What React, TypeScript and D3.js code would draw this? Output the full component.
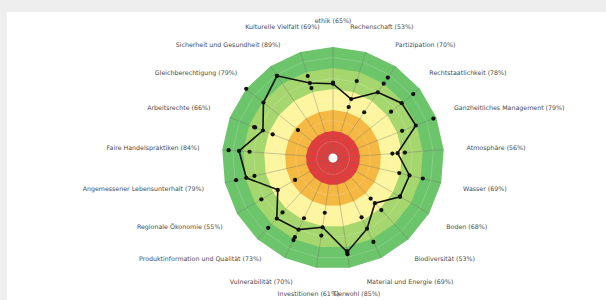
import * as d3 from "d3";
import { useEffect, useRef } from "react";

const categories = [
  "ethik", "Rechenschaft", "Partizipation", "Rechtstaatlichkeit", "Ganzheitliches Management",
  "Atmosphäre", "Wasser", "Boden", "Biodiversität", "Material und Energie", "Tierwohl",
  "Investitionen", "Vulnerabilität", "Produktinformation und Qualität", "Regionale Ökonomie",
  "Angemessener Lebensunterhalt", "Faire Handelspraktiken", "Arbeitsrechte",
  "Gleichberechtigung", "Sicherheit und Gesundheit", "Kulturelle Vielfalt",
];
const scores = [65, 53, 70, 78, 79, 56, 69, 68, 53, 69, 85, 61, 70, 73, 55, 79, 84, 66, 79, 89, 69];
const upperDots = [66, 71, 87, 92, 97, 63, 82, 68, 62, 83, 87, 69, 78, 85, 73, 89, 94, 74, 100, 89, 76];
const lowerDots = [null, 45, 47, 65, 65, 51, 59, null, 47, 57, 84, 47, 58, 65, 36, 71, 74, 56, 37, null, 64];
const extraDots = [null, null, 80, null, null, null, null, null, null, null, null, null, 81, null, null, null, null, 75, null, null, null];

const bandStops = [100, 80, 60, 40, 20];
const bandColors = ["#6cc46b", "#a6d66e", "#fdf59f", "#f5b843", "#e23c3c"];
const gridStops = [10, 30, 50, 70, 90];

export default function App() {
  const ref = useRef<SVGSVGElement>(null);

  useEffect(() => {
    const width = 606;
    const height = 300;
    const cx = 333;
    const cy = 158;
    const labelRadius = 134;

    const svg = d3.select(ref.current);
    svg.selectAll("*").remove();
    svg.attr("width", width).attr("height", height);

    svg.append("rect").attr("width", width).attr("height", height).attr("fill", "#eeeeee");
    svg.append("rect").attr("x", 7).attr("y", 12).attr("width", width - 7).attr("height", height - 12).attr("fill", "#ffffff");

    const n = categories.length;
    const angle = d3.scaleLinear().domain([0, n]).range([0, 2 * Math.PI]);
    const r = d3.scaleLinear().domain([0, 100]).range([6, 111]);

    const g = svg.append("g").attr("transform", `translate(${cx},${cy})`);

    const ring = (v: number) =>
      d3.lineRadial<number>()
        .angle(i => angle(i))
        .radius(() => r(v))
        .curve(d3.curveLinearClosed)(d3.range(n));

    // colour bands
    g.selectAll("path.band")
      .data(bandStops)
      .enter()
      .append("path")
      .attr("class", "band")
      .attr("d", d => ring(d))
      .attr("fill", (_, i) => bandColors[i]);

    // faint grid rings
    g.selectAll("path.grid")
      .data(gridStops)
      .enter()
      .append("path")
      .attr("class", "grid")
      .attr("d", d => ring(d))
      .attr("fill", "none")
      .attr("stroke", "rgba(255,255,255,0.3)")
      .attr("stroke-width", 0.6);

    // spokes
    g.selectAll("line.spoke")
      .data(d3.range(n))
      .enter()
      .append("line")
      .attr("class", "spoke")
      .attr("x1", 0)
      .attr("y1", 0)
      .attr("x2", i => r(100) * Math.sin(angle(i)))
      .attr("y2", i => -r(100) * Math.cos(angle(i)))
      .attr("stroke", "rgba(110,110,110,0.45)")
      .attr("stroke-width", 0.8);

    g.append("circle").attr("r", 4.5).attr("fill", "#ffffff");

    // score line
    g.append("path")
      .attr("d",
        d3.lineRadial<number>()
          .angle((_, i) => angle(i))
          .radius(d => r(d))
          .curve(d3.curveLinearClosed)(scores))
      .attr("fill", "none")
      .attr("stroke", "#111")
      .attr("stroke-width", 1.6);

    const pts: { i: number; v: number }[] = [];
    [scores, upperDots, lowerDots, extraDots].forEach(arr =>
      arr.forEach((v, i) => { if (v != null) pts.push({ i, v }); })
    );

    g.selectAll("circle.dot")
      .data(pts)
      .enter()
      .append("circle")
      .attr("class", "dot")
      .attr("cx", d => r(d.v) * Math.sin(angle(d.i)))
      .attr("cy", d => -r(d.v) * Math.cos(angle(d.i)))
      .attr("r", 2.1)
      .attr("fill", "#111");

    // labels
    const labels = g.selectAll("text.label")
      .data(categories)
      .enter()
      .append("text")
      .attr("class", "label")
      .attr("text-anchor", "middle")
      .attr("dominant-baseline", "central")
      .attr("font-family", "DejaVu Sans, Verdana, sans-serif")
      .attr("font-size", 6.3)
      .attr("fill", "#4a4a4a")
      .text((d, i) => `${d} (${scores[i]}%)`);

    const textH = 7;
    labels.each(function (_, i) {
      const el = this as SVGTextElement;
      const w = el.getComputedTextLength();
      const a = angle(i);
      d3.select(el)
        .attr("x", Math.sin(a) * (labelRadius + w / 2))
        .attr("y", -Math.cos(a) * (labelRadius + textH / 2));
    });
  }, []);

  return <svg ref={ref} style={{ position: "absolute", left: 0, top: 0 }} />;
}
